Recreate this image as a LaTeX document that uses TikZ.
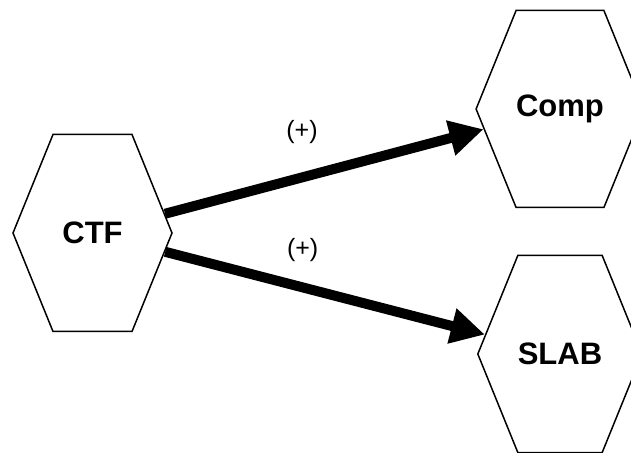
\documentclass[tikz,border=0pt]{standalone}
\usepackage{fontspec}
\setmainfont{Liberation Sans}
\usetikzlibrary{positioning,arrows.meta,shapes.symbols}
\tikzset{
hexnode/.style={
  draw, line width=1.5pt,
  signal, signal to=east and west,
  signal pointer angle=135.8,
  minimum width=159pt, minimum height=197pt,
  inner sep=0pt,
  font=\fontsize{31}{36}\selectfont\bfseries
},
link/.style={line width=10pt, -{Triangle[length=34pt,width=34pt]}},
sign/.style={font=\fontsize{25}{30}\selectfont, inner sep=0pt},
}

\begin{document}
\begin{tikzpicture}[x=1pt,y=1pt]
    \useasboundingbox (0,0) rectangle (631,452);
    \node[hexnode] (ctf)  at (92.5,219) {CTF};
    \node[hexnode] (comp) at (560,343) {Comp};
    \node[hexnode] (slab) at (560,98) {SLAB};
    \draw[link] (ctf) -- (comp) node[sign, pos=0.43, above=29pt] {(+)};
    \draw[link] (ctf) -- (slab) node[sign, pos=0.43, above=21pt] {(+)};
\end{tikzpicture}
\end{document}
